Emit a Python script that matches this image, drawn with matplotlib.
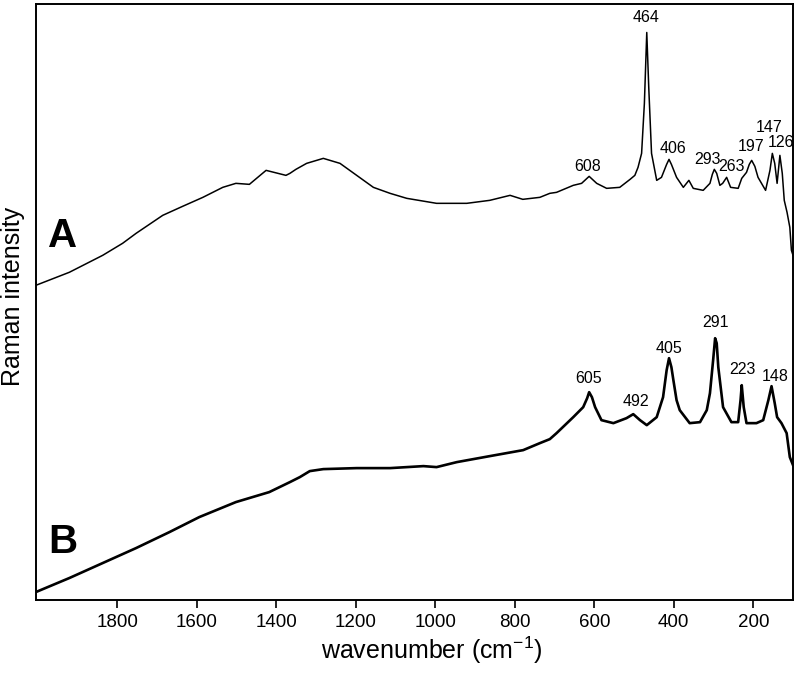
"""Raman spectra A / B - stacked, reversed wavenumber axis"""
import matplotlib
matplotlib.use('Agg')
import matplotlib.pyplot as plt

plt.rcParams['font.family'] = ['Liberation Sans', 'DejaVu Sans']

# spectrum A (wavenumber, intensity in arbitrary units)
wn_a = [2005, 1921, 1837, 1787, 1753, 1686, 1636, 1585, 1535, 1502, 1468, 1426,
        1376, 1366, 1351, 1324, 1282, 1240, 1198, 1156, 1114, 1072, 997, 921,
        863, 812, 780, 737, 712, 695, 653, 632, 613, 594, 569, 536, 510, 498,
        490, 481, 474, 468, 463, 456, 443, 431, 418, 412, 406, 393, 376, 362,
        351, 326, 309, 303, 298, 292, 284, 277, 267, 257, 238, 229, 217, 210,
        204, 196, 188, 169, 158, 152, 146, 140, 133, 127, 122, 115, 108, 104,
        100]
int_a = [315, 328, 345, 357, 367, 385, 394, 403, 413, 417, 416, 430,
         425, 427, 431, 437, 442, 437, 425, 413, 407, 402, 397, 397,
         400, 405, 401, 403, 407, 408, 415, 417, 424, 417, 412, 413, 421, 425,
         433, 447, 497, 568, 513, 447, 420, 423, 436, 441, 436, 423, 413, 420,
         412, 410, 417, 426, 431, 427, 415, 417, 423, 413, 412, 422, 428, 436,
         440, 434, 423, 410, 430, 447, 437, 417, 445, 427, 400, 388, 373, 350,
         345]

# spectrum B
wn_b = [2005, 1921, 1837, 1753, 1669, 1594, 1502, 1418, 1366, 1341, 1316, 1282,
        1198, 1114, 1030, 997, 946, 863, 779, 737, 712, 695, 653, 628, 618,
        613, 606, 598, 582, 552, 519, 502, 485, 468, 443, 427, 418, 412, 406,
        401, 393, 385, 360, 334, 317, 309, 301, 296, 292, 288, 276, 255, 238,
        232, 229, 224, 217, 192, 175, 162, 154, 146, 140, 129, 116, 108, 100]
int_b = [8, 22, 37, 52, 68, 83, 98, 108, 118, 123, 129, 131,
         132, 132, 134, 133, 138, 144, 150, 157, 161, 167, 183, 193, 202,
         208, 203, 193, 180, 177, 182, 186, 180, 175, 183, 203, 230, 242, 233,
         220, 200, 190, 177, 178, 190, 207, 240, 262, 257, 233, 193, 178, 178,
         200, 215, 193, 177, 177, 180, 200, 214, 197, 183, 177, 167, 143, 135]

# peak labels (text, label anchor wavenumber, label anchor intensity)
peaks_a = ['464', '608', '406', '293', '263', '197', '147', '126']
peaks_a_wn = [470, 616, 402, 314, 254, 206, 161, 131]
peaks_a_y = [583, 434, 452, 441, 434, 454, 473, 458]

peaks_b = ['605', '492', '405', '291', '223', '148']
peaks_b_wn = [614, 495, 412, 294, 226, 146]
peaks_b_y = [222, 199, 252, 278, 231, 224]

xticks = [1800, 1600, 1400, 1200, 1000, 800, 600, 400, 200]

fig = plt.figure(figsize=(7.96, 6.88), dpi=100)
ax = fig.add_axes([36 / 796, 88 / 688, 757 / 796, 596.5 / 688])

ax.plot(wn_a, int_a, color='black', linewidth=1.1)
ax.plot(wn_b, int_b, color='black', linewidth=1.9)

for txt, x, y in zip(peaks_a, peaks_a_wn, peaks_a_y):
    ax.text(x, y, txt, fontsize=11.5, ha='center', va='center')
for txt, x, y in zip(peaks_b, peaks_b_wn, peaks_b_y):
    ax.text(x, y, txt, fontsize=11.5, ha='center', va='center')

ax.text(0.016, 0.61, 'A', transform=ax.transAxes, fontsize=29,
        fontweight='bold', ha='left', va='center')
ax.text(0.016, 0.097, 'B', transform=ax.transAxes, fontsize=29,
        fontweight='bold', ha='left', va='center')

ax.set_xlim(2005, 100)
ax.set_ylim(0, 597)
ax.set_xticks(xticks)
ax.set_xticklabels([str(t) for t in xticks])
ax.set_yticks([])
ax.tick_params(axis='x', direction='out', length=6, width=1.2, labelsize=13.5, pad=4)
for sp in ax.spines.values():
    sp.set_linewidth(1.4)

fig.text(432 / 796, 38 / 688, 'wavenumber (cm$^{\\mathregular{-1}}$)',
         fontsize=18, ha='center', va='center')
fig.text(13 / 796, 1 - 296 / 688, 'Raman intensity', fontsize=18,
         rotation=90, ha='center', va='center')

fig.savefig('out.png', dpi=100, facecolor='white')
plt.close(fig)
